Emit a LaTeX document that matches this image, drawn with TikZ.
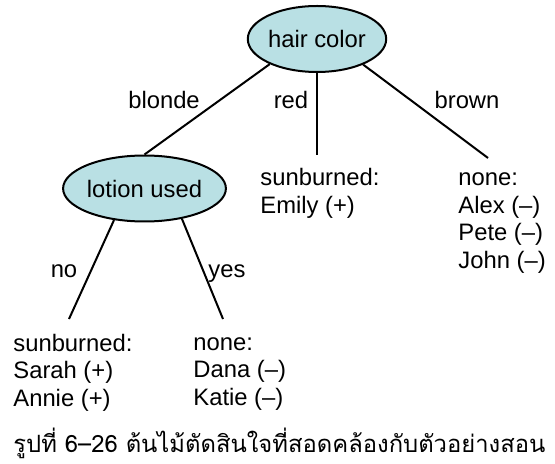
\documentclass[tikz,border=0pt]{standalone}
\usepackage{fontspec}
\setmainfont{Liberation Sans}
\newfontfamily\thaifont[Script=Thai]{Loma}
\usetikzlibrary{shapes.geometric}
\definecolor{attrCyan}{RGB}{185,224,228}
\newcommand{\treefont}{\fontsize{11.9}{13.75}\selectfont}

\begin{document}
\begin{tikzpicture}[x=0.5pt,y=-0.5pt,
  attr/.style={ellipse,draw,line width=1pt,fill=attrCyan,inner sep=0pt,minimum width=64pt,minimum height=33pt,font=\treefont},
  lbl/.style={anchor=base,inner sep=0pt,font=\treefont},
  leaf/.style={anchor=base west,align=left,inner sep=0pt,font=\treefont},
  edge/.style={line width=1pt}
]
\useasboundingbox (0,0) rectangle (555,464);
\node[attr] (hair) at (317,39) {hair color};
\node[attr] (lotion) at (144.5,188.5) {lotion used};
\coordinate (redend) at (317,155);
\coordinate (brownend) at (488,158);
\coordinate (noend) at (69,319);
\coordinate (yesend) at (223,319);
\draw[edge] (hair.208) -- (lotion.north);
\draw[edge] (hair.south) -- (redend);
\draw[edge] (hair.331) -- (brownend);
\draw[edge] (lotion.226) -- (noend);
\draw[edge] (lotion.321) -- (yesend);
\node[lbl] (blonde) at (164,109) {blonde};
\node[lbl] (red) at (291,109) {red};
\node[lbl] (brown) at (467,109) {brown};
\node[lbl] (no) at (64,278) {no};
\node[lbl] (yes) at (227,278) {yes};
% base = last line of each block
\node[leaf] (emily) at (260,213.5) {sunburned:\\Emily (+)};
\node[leaf] (browns) at (458,268.5) {none:\\Alex (--)\\Pete (--)\\John (--)};
\node[leaf] (nolotion) at (13,406) {sunburned:\\Sarah (+)\\Annie (+)};
\node[leaf] (yeslotion) at (193,405) {none:\\Dana (--)\\Katie (--)};
\node[anchor=base west,inner sep=0pt,font=\thaifont\fontsize{11.9}{15}\selectfont] (caption) at (13,452) {รูปที่ 6–26 ต้นไม้ตัดสินใจที่สอดคล้องกับตัวอย่างสอน};
\end{tikzpicture}
\end{document}
